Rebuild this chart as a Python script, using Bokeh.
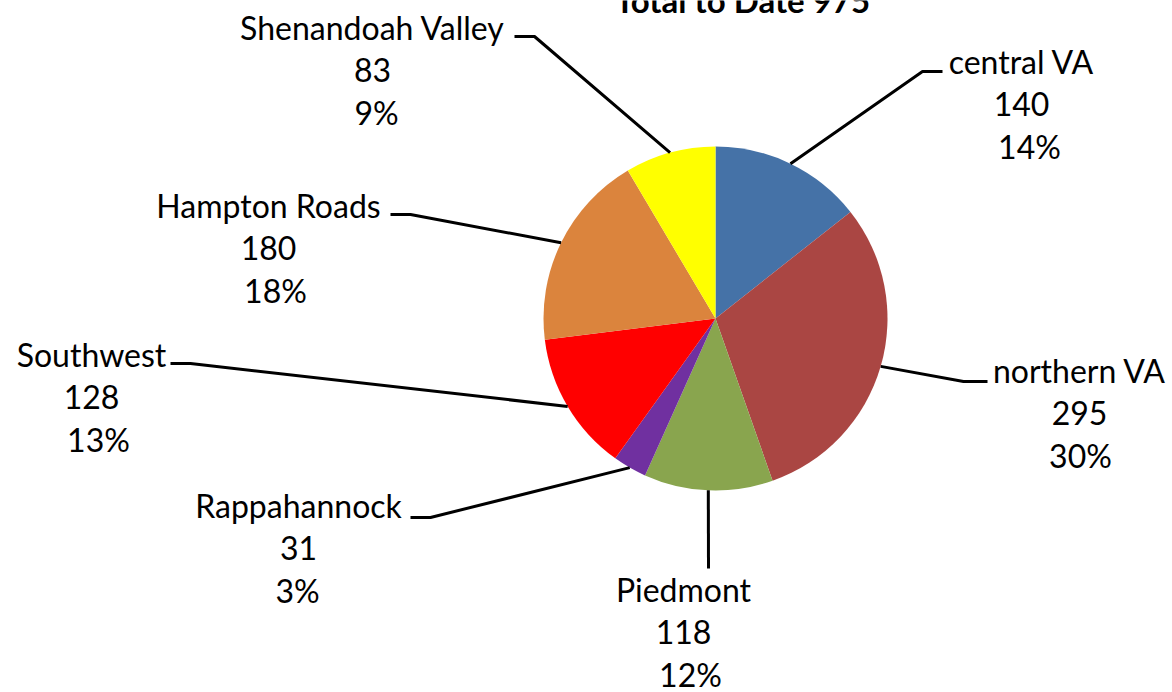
import math
from bokeh.plotting import figure
from bokeh.models import Range1d
from bokeh.core.properties import value
from bokeh.embed import file_html
from bokeh.resources import INLINE

# ---- data ----
regions = ["central VA", "northern VA", "Piedmont", "Rappahannock",
           "Southwest", "Hampton Roads", "Shenandoah Valley"]
counts = [140, 295, 118, 31, 128, 180, 83]
colors = ["#4572A7", "#AA4643", "#89A54E", "#7030A0",
          "#FF0000", "#DB843D", "#FFFF00"]
title_prefix = "Total to Date  "

# ---- layout (pixel coords, y measured from top) ----
W, H = 1172, 692
CX, CY, R = 715, 318, 172
FONT = "Lato"
FS = "32px"
# first-line centre of each label
label_pos = [(1021, 61), (1079, 370), (683, 589), (298, 505),
             (91, 354), (268, 205), (372, 27)]
pct_dx = [8, 1, 7, -1, 7, 7, 4]
line_gap = 42.5
# leader start (next to label) and elbow
leader_start = [(942, 71), (987, 381), (708, 568), (410, 517),
                (170, 363), (390, 214), (514, 36)]
leader_elbow = [(922, 71), (963, 381), (708, 568), (430, 517),
                (190, 363), (410, 214), (534, 36)]


def Y(py):
    return H - py


total = sum(counts)
p = figure(width=W, height=H, output_backend="svg", toolbar_location=None,
           x_range=Range1d(0, W), y_range=Range1d(0, H), min_border=0)
p.axis.visible = False
p.grid.visible = False
p.outline_line_color = None
p.background_fill_color = "white"
p.border_fill_color = "white"

# wedges
cum = [0]
for c in counts:
    cum.append(cum[-1] + c)
starts = [math.pi / 2 - 2 * math.pi * cum[i + 1] / total for i in range(len(counts))]
ends = [math.pi / 2 - 2 * math.pi * cum[i] / total for i in range(len(counts))]
p.wedge(x=CX, y=Y(CY), radius=R, start_angle=starts, end_angle=ends,
        direction="anticlock", fill_color=colors, line_color=None)

# leader lines
xs, ys = [], []
for i in range(len(counts)):
    mid = 2 * math.pi * (cum[i] + counts[i] / 2) / total
    ex = CX + R * math.sin(mid)
    ey = Y(CY) + R * math.cos(mid)
    sx, sy = leader_start[i]
    bx, by = leader_elbow[i]
    xs.append([sx, bx, ex])
    ys.append([Y(sy), Y(by), ey])
p.multi_line(xs=xs, ys=ys, line_color="black", line_width=3)

# labels
tx, ty, tt = [], [], []
for i, name in enumerate(regions):
    lx, ly = label_pos[i]
    pct = f"{round(100 * counts[i] / total)}%"
    tx += [lx, lx, lx + pct_dx[i]]
    ty += [Y(ly), Y(ly + line_gap), Y(ly + 2 * line_gap)]
    tt += [name, str(counts[i]), pct]
p.text(x=tx, y=ty, text=tt, text_align="center", text_baseline="middle",
       text_font=value(FONT), text_font_size=FS, text_color="black")

# title (partly cut off at top, as in the original)
p.text(x=[746], y=[Y(-1)], text=[f"{title_prefix}{total}"], text_align="center",
       text_baseline="middle", text_font=value(FONT), text_font_size="33px",
       text_font_style="bold", text_color="black")

open("out.html", "w").write(file_html(p, INLINE))
